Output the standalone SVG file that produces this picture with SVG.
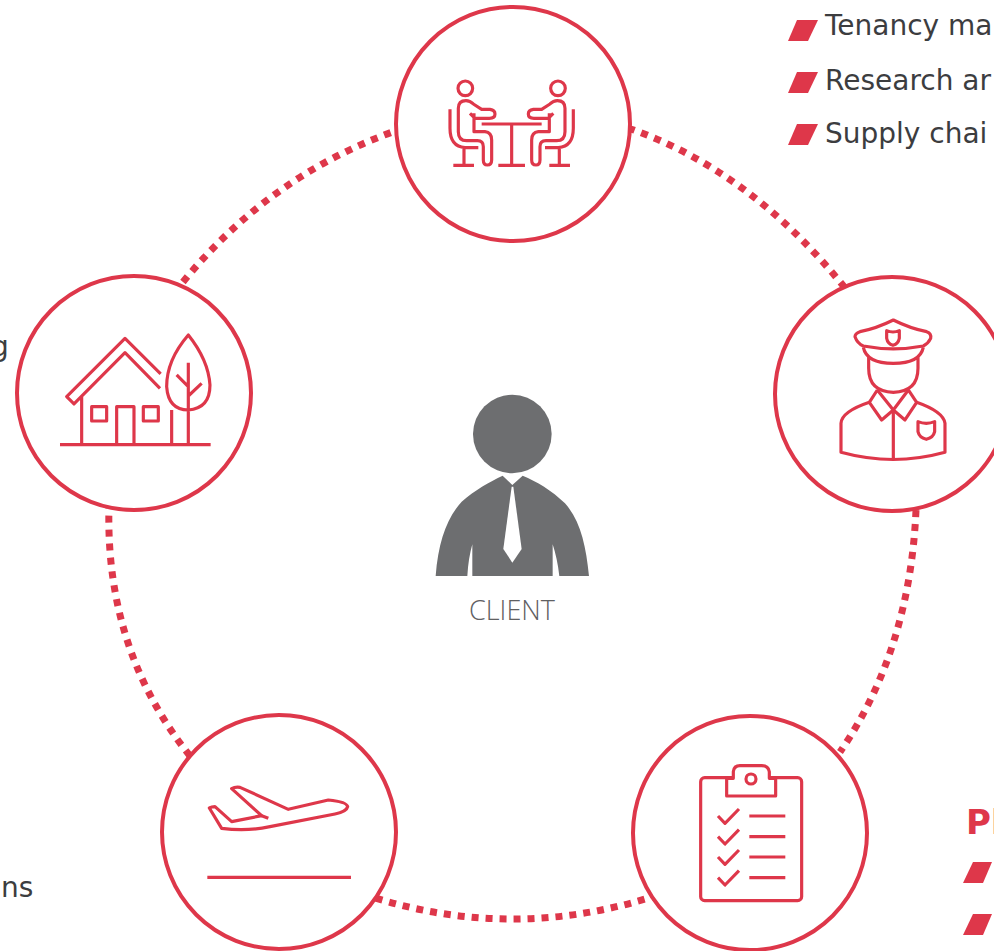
<svg xmlns="http://www.w3.org/2000/svg" xmlns:xlink="http://www.w3.org/1999/xlink" width="994" height="951" viewBox="0 0 994 951">
<style>
.ring{fill:#fff;stroke:#de374a;stroke-width:4}
.ic{fill:none;stroke:#de374a;stroke-width:9.5;stroke-linejoin:round}
.dash{fill:none;stroke:#de374a;stroke-width:7;stroke-dasharray:7 7}
.bul{fill:#de374a}
.t{font-family:"DejaVu Sans",Verdana,sans-serif;font-size:28px;fill:#3c3d3f}
.h{font-family:"DejaVu Sans",Verdana,sans-serif;font-size:34px;font-weight:700;fill:#de374a}
.cl{font-family:"Open Sans",sans-serif;font-weight:300;font-size:27px;fill:#5f6062}
</style>
<rect width="994" height="951" fill="#fff"/>
<g id="connectors">
<path class="dash" d="M628,128 Q750,170 845,288"/>
<path class="dash" d="M916,510 Q910,650 840,752"/>
<path class="dash" d="M658,895 Q515,942 372,897"/>
<path class="dash" d="M190,756 Q105,650 109,506"/>
<path class="dash" d="M183,282 Q270,175 398,130"/>
</g>
<g id="node-meeting">
<circle class="ring" cx="513" cy="124" r="117"/>
<g transform="translate(390,0) scale(.3333)">
<g id="sitter" class="ic"><circle cx="226" cy="265" r="22"/><path d="M180,328V385Q180,440 225,443H265M222,443V495M190,496H252"/><path d="M252,340V395H285Q305,397 305,420V480Q305,495 292,495Q280,495 280,480V440Q280,422 262,422H230Q205,422 205,395V325Q205,302 228,302Q240,302 250,312L275,328H300Q315,330 315,342Q315,355 298,355H255L240,340"/></g>
<use xlink:href="#sitter" href="#sitter" transform="translate(730,0) scale(-1,1)"/>
<path class="ic" d="M275,372H455M365,372V495M325,496H405"/>
</g>
</g>
<g id="node-police">
<circle class="ring" cx="892" cy="394" r="117"/>
<g class="ic" transform="translate(770,270) scale(.3333)">
<path d="M255,200Q255,190 270,185Q320,175 370,150Q420,175 470,185Q485,190 482,205Q475,220 460,228Q370,245 280,228Q262,220 255,200Z"/>
<path d="M280,232Q290,280 370,280Q450,280 460,232M296,262V295Q296,365 370,367Q444,365 444,295V262"/>
<path d="M322,360L298,397L335,450L370,420L405,450L440,397L415,360M322,360L370,420L415,360"/>
<path d="M298,397Q215,425 213,460V547Q370,590 525,547V460Q520,425 440,397M370,420V568"/>
<path d="M350,182Q369,190 388,182V205Q385,222 369,226Q353,222 350,205Z"/>
<path d="M444,455Q469,465 494,455V485Q490,503 469,508Q448,503 444,485Z"/>
</g>
</g>
<g id="node-checklist">
<circle class="ring" cx="750" cy="833" r="117"/>
<g class="ic" transform="translate(630,710) scale(.3333)">
<rect x="212" y="203" width="303" height="369" rx="12"/>
<path d="M290,205V258H437V205H418V185Q415,167 395,167H330Q312,167 310,185V205Z" fill="#fff"/>
<circle cx="363" cy="207" r="15"/>
<path d="M264,318L285,340L327,297M358,318H466M264,380L285,402L327,359M358,380H466M264,441L285,463L327,420M358,441H466M264,503L285,525L327,482M358,503H466"/>
</g>
</g>
<g id="node-travel">
<circle class="ring" cx="279" cy="832" r="117"/>
<g class="ic" transform="translate(150,710) scale(.3333)">
<path d="M178,294Q185,290 195,290L245,335L335,317L245,236Q255,230 270,232L415,298L535,270Q590,275 593,290Q590,305 555,312L360,350Q290,365 215,355Z"/>
<path d="M335,317L355,325"/>
<path d="M172,502H603" style="stroke-width:10"/>
</g>
</g>
<g id="node-property">
<circle class="ring" cx="134" cy="393" r="117"/>
<g class="ic" transform="translate(0,270) scale(.3333)">
<path d="M482,312L375,205L200,380L222,402L375,248L480,355M245,380V523M515,420V523M180,524H632M350,523V410H402V523"/>
<rect x="275" y="410" width="45" height="43"/><rect x="430" y="410" width="45" height="43"/>
<path d="M565,195Q500,270 500,350Q505,420 565,420Q630,415 630,345Q625,270 565,195ZM565,278V523M530,315L565,350M605,340L565,378"/>
</g>
</g>
<g id="node-client">
<g transform="translate(420,385) scale(.3333)" fill="#6d6e70">
<circle cx="277" cy="147" r="118"/>
<path d="M47,573C55,470 80,400 125,350C165,315 210,290 248,272L277,300L308,272C350,290 395,315 435,355C480,405 498,480 507,573H418Q412,520 398,478V573H157V478Q145,520 142,573Z"/>
<path d="M275,305L250,492L277,533L305,492L280,305Z" fill="#fff"/>
</g>
<text class="cl" x="512" y="620" text-anchor="middle">CLIENT</text>
</g>
<g id="list-top">
<polygon class="bul" points="797,20 818,20 808,41 788,41"/>
<polygon class="bul" points="797,72 818,72 808,93 788,93"/>
<polygon class="bul" points="797,124 818,124 808,145 788,145"/>
<text class="t" x="825" y="35">Tenancy ma</text>
<text class="t" x="825" y="90">Research ar</text>
<text class="t" x="825" y="143">Supply chai</text>
</g>
<g id="list-bottom">
<text class="h" x="966" y="834">Pl</text>
<polygon class="bul" points="973,862 992,862 983,883 963,883"/>
<polygon class="bul" points="973,914 992,914 983,935 963,935"/>
</g>
<g id="fragments">
<text class="t" x="-9" y="356">g</text>
<text class="t" x="1" y="897">ns</text>
</g>
</svg>
